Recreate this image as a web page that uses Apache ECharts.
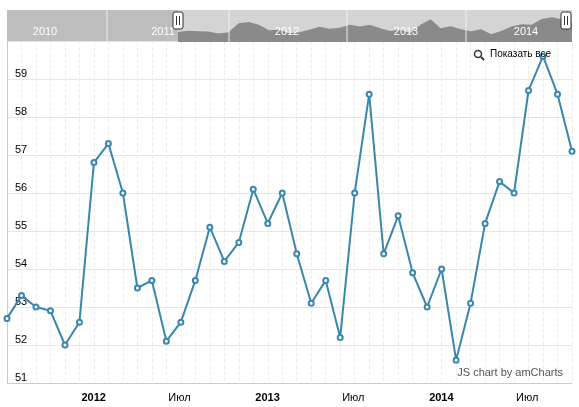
<!DOCTYPE html><html><head><meta charset="utf-8"><script src="https://cdn.jsdelivr.net/npm/echarts@6/dist/echarts.min.js"></script>
<style>body{margin:0}#c{width:579px;height:407px}</style></head><body><div id="c"></div><script>
const months = ['2011-08','2011-09','2011-10','2011-11','2011-12','2012-01','2012-02','2012-03','2012-04','2012-05','2012-06','2012-07','2012-08','2012-09','2012-10','2012-11','2012-12','2013-01','2013-02','2013-03','2013-04','2013-05','2013-06','2013-07','2013-08','2013-09','2013-10','2013-11','2013-12','2014-01','2014-02','2014-03','2014-04','2014-05','2014-06','2014-07','2014-08','2014-09','2014-10','2014-11'];
const values = [52.7,53.3,53.0,52.9,52.0,52.6,56.8,57.3,56.0,53.5,53.7,52.1,52.6,53.7,55.1,54.2,54.7,56.1,55.2,56.0,54.4,53.1,53.7,52.2,56.0,58.6,54.4,55.4,53.9,53.0,54.0,51.6,53.1,55.2,56.3,56.0,58.7,59.6,58.6,57.1];
const yearLabels = ['2010','2011','2012','2013','2014'];
const yearX = [45,163,287,406,526];
const chart = echarts.init(document.getElementById('c'));
const g = [
 {type:'rect',shape:{x:7,y:10,width:565,height:32},style:{fill:'#d4d4d4'},z:0},
 {type:'rect',shape:{x:7,y:10,width:171,height:32},style:{fill:'#bdbdbd'},z:0},
];
[107,229,347,466].forEach(x=>g.push({type:'line',shape:{x1:x,y1:10,x2:x,y2:42},style:{stroke:'#eee',lineWidth:1},z:5}));
yearLabels.forEach((t,i)=>g.push({type:'text',x:yearX[i],y:26,style:{text:t,fill:'#fff',font:'11px Arial',align:'center'},z:6}));
[178,566].forEach(x=>g.push({type:'rect',shape:{x:x-5,y:12,width:10,height:17,r:2},style:{fill:'#fff',stroke:'#333',lineWidth:1},z:7}));
[178,566].forEach(x=>{g.push({type:'line',shape:{x1:x-1.5,y1:16,x2:x-1.5,y2:25},style:{stroke:'#333'},z:8});g.push({type:'line',shape:{x1:x+1.5,y1:16,x2:x+1.5,y2:25},style:{stroke:'#333'},z:8});});
g.push({type:'circle',shape:{cx:478,cy:54,r:3.5},style:{fill:'none',stroke:'#333',lineWidth:1.5},z:6});
g.push({type:'line',shape:{x1:481,y1:57,x2:484,y2:60},style:{stroke:'#333',lineWidth:2},z:6});
g.push({type:'text',x:490,y:49,style:{text:'Показать все',fill:'#000',font:'10px Arial'},z:6});
g.push({type:'text',x:563,y:367,style:{text:'JS chart by amCharts',fill:'#555',font:'11px Arial',align:'right'},z:6});
chart.setOption({
 animation:false,
 graphic:g,
 grid:[{left:7,right:7,top:41,bottom:24},{left:178,right:7,top:12,height:30}],
 xAxis:[{type:'category',data:months,boundaryGap:false,gridIndex:0,
   axisLine:{lineStyle:{color:'#ccc'}},axisTick:{show:false},
   axisLabel:{interval:0,margin:9,color:'#000',fontSize:11,fontFamily:'Arial',align:'left',padding:[0,0,0,2],
     formatter:v=>{const [y,m]=v.split('-');return m==='01'?'{b|'+y+'}':(m==='07'?'Июл':'');},rich:{b:{fontWeight:'bold',fontSize:11}}},
   splitLine:{show:true,interval:0,lineStyle:{color:'#eee',type:'dashed'}}},
  {type:'category',data:months,boundaryGap:false,gridIndex:1,show:false}],
 yAxis:[{type:'value',min:51,max:60,interval:1,gridIndex:0,axisLine:{show:true,lineStyle:{color:'#ccc'}},
   axisLabel:{inside:true,color:'#000',fontSize:11,fontFamily:'Arial',verticalAlign:'bottom',margin:8,formatter:v=>v===60?'':v},
   splitLine:{lineStyle:{color:'#e6e6e6'}}},
  {type:'value',min:48,max:62,gridIndex:1,show:false}],
 series:[{type:'line',data:values,symbol:'emptyCircle',symbolSize:5,lineStyle:{color:'#3a87ad',width:2},itemStyle:{color:'#3a87ad',borderWidth:1.5},z:3},
  {type:'line',data:values,xAxisIndex:1,yAxisIndex:1,symbol:'none',lineStyle:{width:0},areaStyle:{color:'#8a8a8a',opacity:1},z:1}]
});
</script></body></html>
